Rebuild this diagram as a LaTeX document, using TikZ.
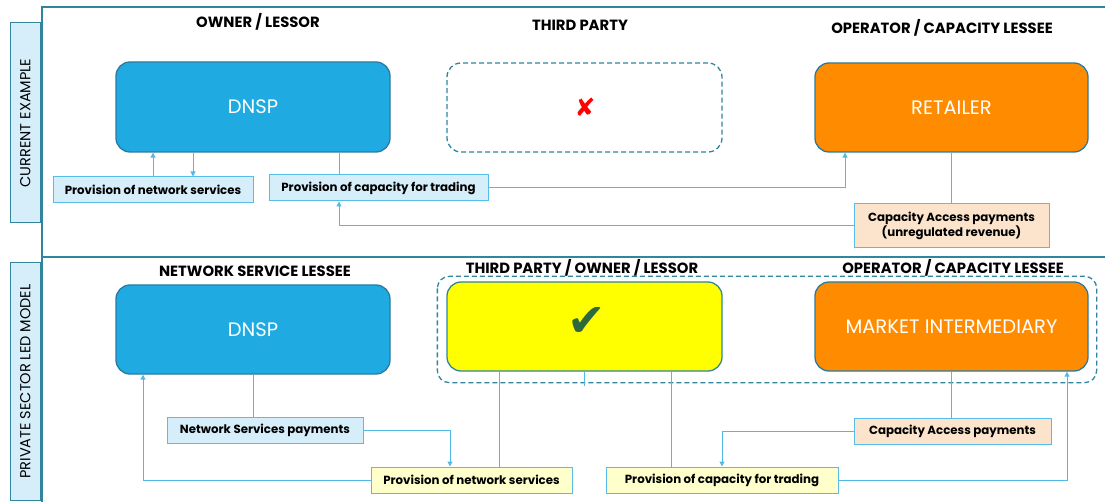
\documentclass[tikz,border=0pt]{standalone}
\usepackage{fontspec}
\setmainfont{Poppins}
\newfontfamily\symfont{DejaVu Sans}
\usetikzlibrary{arrows.meta, positioning, calc}
\definecolor{FrameTeal}{RGB}{49,133,156}
\definecolor{BoxEdge}{RGB}{44,122,160}
\definecolor{DNSPBlue}{RGB}{31,171,226}
\definecolor{OpOrange}{RGB}{255,140,0}
\definecolor{OwnYellow}{RGB}{255,255,0}
\definecolor{LblBlue}{RGB}{214,238,250}
\definecolor{LblEdge}{RGB}{86,188,234}
\definecolor{LblPeach}{RGB}{252,228,204}
\definecolor{LblCream}{RGB}{255,255,204}
\definecolor{LinkBlue}{RGB}{79,186,230}
\definecolor{TickGreen}{RGB}{45,105,60}

\begin{document}
\begin{tikzpicture}[x=1pt, y=-1pt,
    party/.style={rectangle, rounded corners=14pt, draw=BoxEdge, line width=1.3pt,
                  minimum width=274pt, minimum height=90pt, inner sep=0pt,
                  text=white, font=\fontsize{19.5}{22}\selectfont},
    head/.style={font=\bfseries\fontsize{14.8}{17}\selectfont, inner sep=0pt},
    lbl/.style={rectangle, draw=LblEdge, line width=1pt, minimum height=26pt,
                inner sep=0pt, align=center,
                font=\bfseries\fontsize{11.8}{15}\selectfont},
    side/.style={rectangle, draw=FrameTeal, fill=LblBlue, line width=1pt,
                 minimum height=30.5pt, inner sep=0pt, rotate=90,
                 font=\fontsize{14.5}{16}\selectfont},
    frame/.style={draw=FrameTeal, line width=1.8pt},
    link/.style={draw=LinkBlue, line width=1pt},
    arr/.style={link, -{Triangle[length=5pt, width=5pt]}},
    dash5/.style={dash pattern=on 5pt off 3pt}
  ]
  \useasboundingbox (0,0) rectangle (1105,502);

  % frame and row titles
  \draw[frame] (42,502) -- (42,7) -- (1105,7);
  \draw[frame] (42,257) -- (1105,257);
  \node[side, minimum width=200pt] (rowA) at (25.3,123) {CURRENT EXAMPLE};
  \node[side, minimum width=237pt] (rowB) at (25.3,381.5) {PRIVATE SECTOR LED MODEL};

  % current example
  \node[head] (hOwnA) at (258,22) {OWNER / LESSOR};
  \node[head] (hThirdA) at (580,25) {THIRD PARTY};
  \node[head] (hOpA) at (942,28) {OPERATOR / CAPACITY LESSEE};

  \node[party, fill=DNSPBlue] (dnspA) at (253,107) {DNSP};
  \node[party, draw=FrameTeal, dash5, minimum width=275pt, minimum height=89pt]
        (thirdA) at (584.5,107.5) {};
  \node[text=red, font=\symfont\fontsize{25}{25}\selectfont] (cross) at (585,107) {✘};
  \node[party, fill=OpOrange, minimum width=273pt, minimum height=89pt]
        (retail) at (951.5,107.5) {RETAILER};

  \node[lbl, fill=LblBlue, minimum width=200pt] (netA) at (153,190)
        {Provision of network services};
  \node[lbl, fill=LblBlue, minimum width=219pt] (capA) at (378.5,188)
        {Provision of capacity for trading};
  \node[lbl, fill=LblPeach, minimum width=195pt, minimum height=44pt] (payA)
        at (951.5,226) {Capacity Access payments\\(unregulated revenue)};

  \coordinate (netAdn) at ([xshift=40pt]netA.north);
  \coordinate (capAin) at ([xshift=-39.5pt]capA.north);
  \coordinate (retailin) at ([xshift=-106.5pt]retail.south);
  \draw[arr] (netA.north) -- (netA.north |- dnspA.south);
  \draw[arr] (netAdn |- dnspA.south) -- (netAdn);
  \draw[link] (capAin |- dnspA.south) -- (capAin);
  \draw[arr] (capA.east) -| (retailin);
  \draw[link] (retail.south) -- (retail.south |- payA.north);
  \draw[arr] (payA.west) -| (capAin |- capA.south);

  % private sector led model
  \node[head] (hNetB) at (255,271) {NETWORK SERVICE LESSEE};
  \node[head] (hThirdB) at (582,268) {THIRD PARTY / OWNER / LESSOR};
  \node[head] (hOpB) at (953,268) {OPERATOR / CAPACITY LESSEE};

  \node[party, fill=DNSPBlue, minimum height=89pt] (dnspB) at (253,329.5) {DNSP};
  \node[party, draw=FrameTeal, fill=OwnYellow, minimum width=275pt, minimum height=89pt]
        (thirdB) at (584.5,326.5) {};
  \node[text=TickGreen, font=\symfont\fontsize{46}{46}\selectfont] (tick)
        at (587,322) {✔};
  \node[party, fill=OpOrange, minimum width=273pt, minimum height=89pt]
        (market) at (951.5,326.5) {MARKET INTERMEDIARY};
  \draw[draw=FrameTeal, line width=1.3pt, dash5, rounded corners=12pt]
        ([shift={(-9pt,5pt)}]thirdB.north west) rectangle
        ([shift={(8pt,-11pt)}]market.south east);

  \node[lbl, fill=LblBlue, minimum width=196pt] (nspB) at (265,430)
        {Network Services payments};
  \node[lbl, fill=LblCream, minimum width=201pt] (netB) at (471.5,480)
        {Provision of network services};
  \node[lbl, fill=LblCream, minimum width=232pt] (capB) at (722,480)
        {Provision of capacity for trading};
  \node[lbl, fill=LblPeach, minimum width=197pt] (payB) at (952.5,431)
        {Capacity Access payments};

  \coordinate (stub) at ([yshift=-14pt]thirdB.south);
  \coordinate (netBin) at ([xshift=-21.5pt]netB.north);
  \coordinate (dnspBin) at ([xshift=-110pt]dnspB.south);
  \coordinate (thirdBl) at ([xshift=-85.5pt]thirdB.south);
  \coordinate (thirdBr) at ([xshift=86.5pt]thirdB.south);
  \coordinate (marketin) at ([xshift=115.5pt]market.south);
  \draw[link] (thirdB.south) -- (stub);
  \draw[link] (dnspB.south) -- (dnspB.south |- nspB.north);
  \draw[arr] (nspB.east) -| (netBin);
  \draw[arr] (netB.west) -| (dnspBin);
  \draw[link] (thirdBl) -- (thirdBl |- netB.north);
  \draw[link] (thirdBr) -- (thirdBr |- capB.north);
  \draw[link] (market.south) -- (market.south |- payB.north);
  \draw[arr] (payB.west) -| (capB.north);
  \draw[arr] (capB.east) -| (marketin);
\end{tikzpicture}
\end{document}
